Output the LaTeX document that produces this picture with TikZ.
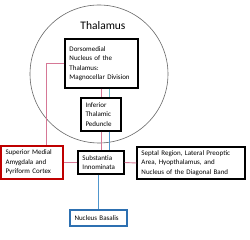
\documentclass[tikz,border=0pt]{standalone}
\usepackage{fontspec}
\setmainfont{Carlito}
\begin{document}
\begin{tikzpicture}[x=1pt,y=-1pt,
  box/.style={draw=black, line width=1.1pt, fill=white, align=left, inner xsep=4.5pt, inner ysep=2pt,
    font=\fontsize{7}{9.5}\selectfont, anchor=center},
  redbox/.style={box, draw=red!75!black},
  bluebox/.style={box, draw=cyan!55!blue!85!black},
  pinkl/.style={draw={rgb,255:red,214;green,120;blue,150}, line width=0.9pt},
  tealline/.style={draw={rgb,255:red,110;green,190;blue,200}, line width=0.9pt},
  blueline/.style={draw={rgb,255:red,80;green,150;blue,205}, line width=0.9pt}]
\useasboundingbox (0,0) rectangle (250,240);
\fill[white] (0,0) rectangle (250,240);
\draw[gray!80!black, line width=0.6pt] (99,74) circle [radius=69];
\node[font=\fontsize{11.5}{13}\selectfont] (th) at (103,26) {Thalamus};
\coordinate (px) at (101,0);
\coordinate (tx) at (109,0);
\coordinate (ax) at (46,0);
\node[box, minimum width=73pt, minimum height=49pt, text width=64pt] (dm) at (101.5,63.5)
  {Dorsomedial\\Nucleus of the\\Thalamus:\\Magnocellar Division};
\node[box, minimum width=40pt, minimum height=33pt, text width=31pt] (itp) at (101,114.5)
  {Inferior\\Thalamic\\Peduncle};
\node[box, minimum width=46pt, minimum height=23pt, text width=37pt] (si) at (101,162.5)
  {Substantia\\Innominata};
\node[redbox, minimum width=62pt, minimum height=33pt, text width=53pt] (amy) at (32,162.5)
  {Superior Medial\\Amygdala and\\Pyriform Cortex};
\node[box, minimum width=108pt, minimum height=32pt, text width=99pt] (sep) at (191,163)
  {Septal Region, Lateral Preoptic\\Area, Hyopthalamus, and\\Nucleus of the Diagonal Band};
\node[bluebox, minimum width=57pt, minimum height=16pt, text width=48pt] (nb) at (98.5,218)
  {Nucleus Basalis};
\draw[pinkl] (dm.south -| px) -- (itp.north -| px);
\draw[tealline] (dm.south -| tx) -- (itp.north -| tx);
\draw[pinkl] (itp.south -| px) -- (si.north -| px);
\draw[blueline] (itp.south -| tx) -- (si.north -| tx);
\draw[blueline] (si.south -| nb.north) -- (nb.north);
\draw[pinkl] (dm.west) -| (amy.north -| ax);
\draw[pinkl] (amy.east) -- (si.west);
\draw[pinkl] (si.east) -- (sep.west);
\end{tikzpicture}
\end{document}
